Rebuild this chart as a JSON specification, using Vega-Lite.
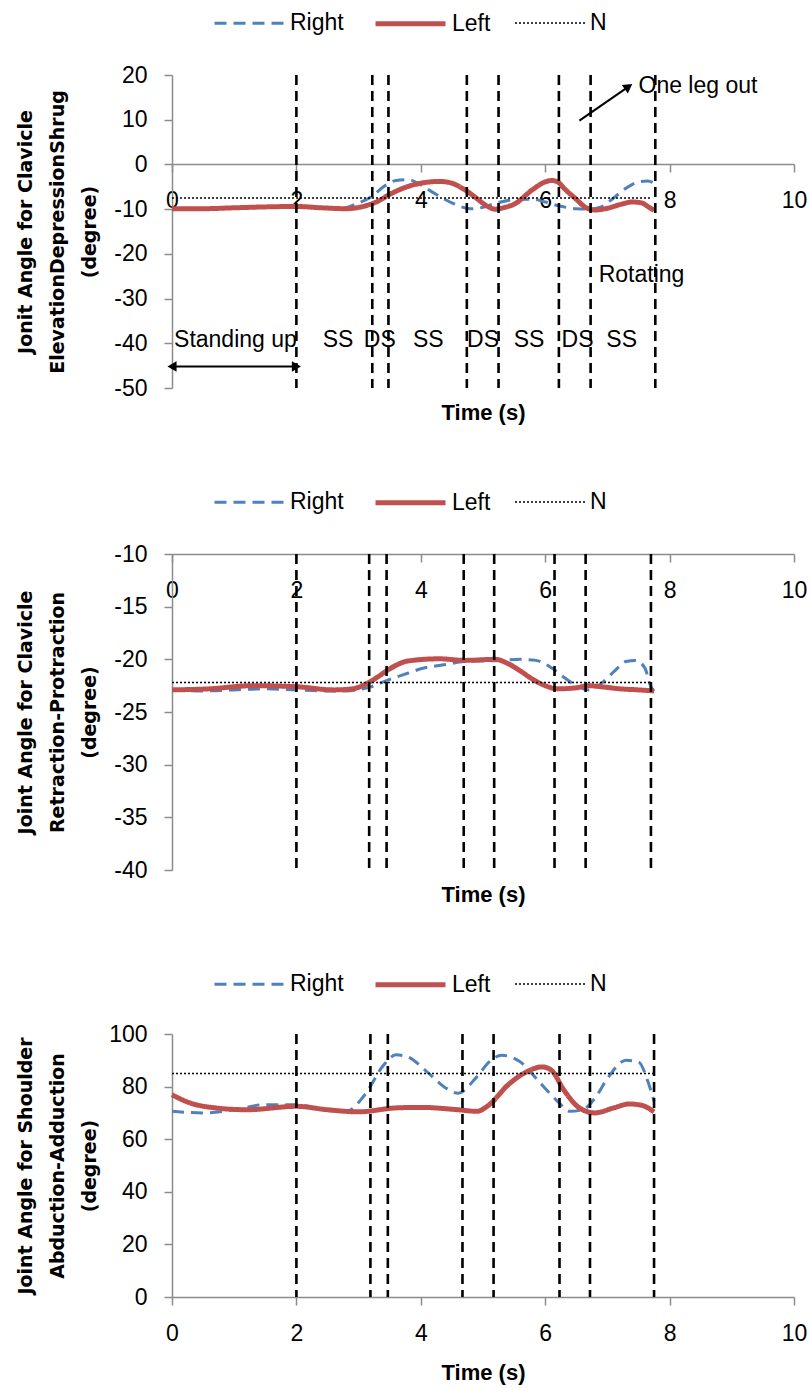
{
  "$schema": "https://vega.github.io/schema/vega-lite/v6.json",
  "background": "white",
  "padding": {"left": 16, "top": -14, "right": 5, "bottom": 5},
  "spacing": 42,
  "config": {
    "font": "Liberation Sans",
    "view": {"stroke": null},
    "axis": {"grid": false, "domainColor": "#8c8c8c", "domainWidth": 1.5, "tickColor": "#8c8c8c", "tickWidth": 1.5, "tickSize": 8, "labelFont": "Liberation Sans", "labelFontSize": 23, "labelColor": "#000", "labelPadding": 17, "labelFlush": false, "labelOverlap": false, "labelBound": false, "labelExpr": "'' + datum.value"},
    "axisX": {"titleFont": "Liberation Sans", "titleFontSize": 22, "titleFontWeight": "bold", "titleColor": "#000", "titleBaseline": "middle", "labelPadding": 17},
    "axisY": {"titleFont": "DejaVu Sans", "titleFontSize": 19, "titleFontWeight": "bold", "titleColor": "#000", "titleLineHeight": 32, "titleAngle": 270, "titleAlign": "center", "titleBaseline": "middle", "titleX": -147},
    "legend": {"labelFont": "Liberation Sans", "labelFontSize": 23, "labelColor": "#000", "symbolType": "stroke", "symbolSize": 4900, "labelOffset": 4, "columnPadding": 21, "padding": 0}
  },
  "resolve": {"scale": {"color": "independent", "strokeDash": "independent", "strokeWidth": "independent", "x": "independent", "y": "independent"}},
  "datasets": {
    "p1": [
      {"s": "Right", "t": 0, "v": -9.9}, {"s": "Right", "t": 0.5, "v": -9.9}, {"s": "Right", "t": 1, "v": -9.7}, {"s": "Right", "t": 1.5, "v": -9.5}, {"s": "Right", "t": 2, "v": -9.4}, {"s": "Right", "t": 2.4, "v": -9.7}, {"s": "Right", "t": 2.7, "v": -9.9}, {"s": "Right", "t": 3.0, "v": -8.6}, {"s": "Right", "t": 3.2, "v": -7.3}, {"s": "Right", "t": 3.4, "v": -5.0}, {"s": "Right", "t": 3.6, "v": -3.6}, {"s": "Right", "t": 3.8, "v": -3.4}, {"s": "Right", "t": 4.0, "v": -4.6}, {"s": "Right", "t": 4.2, "v": -6.3}, {"s": "Right", "t": 4.5, "v": -8.6}, {"s": "Right", "t": 4.8, "v": -9.9}, {"s": "Right", "t": 5.0, "v": -9.6}, {"s": "Right", "t": 5.2, "v": -8.7}, {"s": "Right", "t": 5.5, "v": -7.9}, {"s": "Right", "t": 5.8, "v": -7.8}, {"s": "Right", "t": 6.0, "v": -8.4}, {"s": "Right", "t": 6.2, "v": -9.2}, {"s": "Right", "t": 6.5, "v": -9.9}, {"s": "Right", "t": 6.7, "v": -10.0}, {"s": "Right", "t": 6.9, "v": -9.5}, {"s": "Right", "t": 7.1, "v": -7.5}, {"s": "Right", "t": 7.3, "v": -5.3}, {"s": "Right", "t": 7.5, "v": -3.9}, {"s": "Right", "t": 7.65, "v": -3.7}, {"s": "Right", "t": 7.75, "v": -4.2},
      {"s": "Left", "t": 0, "v": -9.9}, {"s": "Left", "t": 0.5, "v": -9.9}, {"s": "Left", "t": 1, "v": -9.7}, {"s": "Left", "t": 1.5, "v": -9.5}, {"s": "Left", "t": 2, "v": -9.4}, {"s": "Left", "t": 2.4, "v": -9.7}, {"s": "Left", "t": 2.8, "v": -9.9}, {"s": "Left", "t": 3.1, "v": -9.3}, {"s": "Left", "t": 3.3, "v": -8.3}, {"s": "Left", "t": 3.5, "v": -6.7}, {"s": "Left", "t": 3.8, "v": -4.9}, {"s": "Left", "t": 4.0, "v": -4.2}, {"s": "Left", "t": 4.3, "v": -3.8}, {"s": "Left", "t": 4.5, "v": -4.2}, {"s": "Left", "t": 4.7, "v": -5.6}, {"s": "Left", "t": 4.9, "v": -7.6}, {"s": "Left", "t": 5.05, "v": -9.2}, {"s": "Left", "t": 5.2, "v": -10.0}, {"s": "Left", "t": 5.35, "v": -9.6}, {"s": "Left", "t": 5.5, "v": -8.9}, {"s": "Left", "t": 5.8, "v": -5.6}, {"s": "Left", "t": 6.0, "v": -3.9}, {"s": "Left", "t": 6.1, "v": -3.6}, {"s": "Left", "t": 6.2, "v": -3.9}, {"s": "Left", "t": 6.3, "v": -5.3}, {"s": "Left", "t": 6.5, "v": -7.8}, {"s": "Left", "t": 6.65, "v": -9.6}, {"s": "Left", "t": 6.8, "v": -10.2}, {"s": "Left", "t": 7.0, "v": -9.8}, {"s": "Left", "t": 7.2, "v": -9.0}, {"s": "Left", "t": 7.4, "v": -8.4}, {"s": "Left", "t": 7.55, "v": -8.6}, {"s": "Left", "t": 7.65, "v": -9.4}, {"s": "Left", "t": 7.75, "v": -10.3},
      {"s": "N", "t": 0, "v": -7.5}, {"s": "N", "t": 7.7, "v": -7.5}
    ],
    "p2": [
      {"s": "Right", "t": 0, "v": -22.9}, {"s": "Right", "t": 0.5, "v": -23.0}, {"s": "Right", "t": 1, "v": -22.9}, {"s": "Right", "t": 1.5, "v": -22.8}, {"s": "Right", "t": 2, "v": -22.9}, {"s": "Right", "t": 2.5, "v": -23.0}, {"s": "Right", "t": 2.8, "v": -23.0}, {"s": "Right", "t": 3.2, "v": -22.6}, {"s": "Right", "t": 3.5, "v": -21.9}, {"s": "Right", "t": 3.8, "v": -21.3}, {"s": "Right", "t": 4.0, "v": -20.9}, {"s": "Right", "t": 4.4, "v": -20.5}, {"s": "Right", "t": 4.7, "v": -20.2}, {"s": "Right", "t": 5.0, "v": -20.15}, {"s": "Right", "t": 5.3, "v": -20.1}, {"s": "Right", "t": 5.6, "v": -20.0}, {"s": "Right", "t": 5.85, "v": -20.1}, {"s": "Right", "t": 6.1, "v": -20.8}, {"s": "Right", "t": 6.3, "v": -21.7}, {"s": "Right", "t": 6.5, "v": -22.5}, {"s": "Right", "t": 6.7, "v": -22.9}, {"s": "Right", "t": 6.9, "v": -22.3}, {"s": "Right", "t": 7.1, "v": -21.2}, {"s": "Right", "t": 7.3, "v": -20.2}, {"s": "Right", "t": 7.45, "v": -20.1}, {"s": "Right", "t": 7.6, "v": -20.8}, {"s": "Right", "t": 7.7, "v": -22.6}, {"s": "Right", "t": 7.75, "v": -23.0},
      {"s": "Left", "t": 0, "v": -22.9}, {"s": "Left", "t": 0.6, "v": -22.8}, {"s": "Left", "t": 1.3, "v": -22.5}, {"s": "Left", "t": 2, "v": -22.6}, {"s": "Left", "t": 2.6, "v": -22.9}, {"s": "Left", "t": 2.9, "v": -22.8}, {"s": "Left", "t": 3.1, "v": -22.4}, {"s": "Left", "t": 3.3, "v": -21.7}, {"s": "Left", "t": 3.5, "v": -20.9}, {"s": "Left", "t": 3.8, "v": -20.15}, {"s": "Left", "t": 4.3, "v": -19.95}, {"s": "Left", "t": 4.7, "v": -20.1}, {"s": "Left", "t": 5.2, "v": -20.0}, {"s": "Left", "t": 5.4, "v": -20.4}, {"s": "Left", "t": 5.6, "v": -21.1}, {"s": "Left", "t": 5.8, "v": -21.9}, {"s": "Left", "t": 6.0, "v": -22.5}, {"s": "Left", "t": 6.2, "v": -22.8}, {"s": "Left", "t": 6.5, "v": -22.7}, {"s": "Left", "t": 6.7, "v": -22.5}, {"s": "Left", "t": 6.9, "v": -22.6}, {"s": "Left", "t": 7.2, "v": -22.8}, {"s": "Left", "t": 7.5, "v": -22.9}, {"s": "Left", "t": 7.75, "v": -23.0},
      {"s": "N", "t": 0, "v": -22.2}, {"s": "N", "t": 7.7, "v": -22.2}
    ],
    "p3": [
      {"s": "Right", "t": 0, "v": 70.6}, {"s": "Right", "t": 0.5, "v": 70.0}, {"s": "Right", "t": 1.0, "v": 71.2}, {"s": "Right", "t": 1.5, "v": 73.1}, {"s": "Right", "t": 2.0, "v": 73.1}, {"s": "Right", "t": 2.5, "v": 70.9}, {"s": "Right", "t": 2.8, "v": 70.6}, {"s": "Right", "t": 3.1, "v": 76.9}, {"s": "Right", "t": 3.4, "v": 88.1}, {"s": "Right", "t": 3.6, "v": 92.1}, {"s": "Right", "t": 3.8, "v": 91.2}, {"s": "Right", "t": 4.1, "v": 85.6}, {"s": "Right", "t": 4.4, "v": 79.5}, {"s": "Right", "t": 4.6, "v": 77.5}, {"s": "Right", "t": 4.9, "v": 83.7}, {"s": "Right", "t": 5.1, "v": 89.4}, {"s": "Right", "t": 5.3, "v": 91.9}, {"s": "Right", "t": 5.6, "v": 89.4}, {"s": "Right", "t": 5.9, "v": 81.9}, {"s": "Right", "t": 6.2, "v": 74.4}, {"s": "Right", "t": 6.4, "v": 70.6}, {"s": "Right", "t": 6.6, "v": 71.2}, {"s": "Right", "t": 6.8, "v": 75.6}, {"s": "Right", "t": 7.0, "v": 83.1}, {"s": "Right", "t": 7.3, "v": 90.0}, {"s": "Right", "t": 7.5, "v": 89.4}, {"s": "Right", "t": 7.65, "v": 82.0}, {"s": "Right", "t": 7.75, "v": 74.4},
      {"s": "Left", "t": 0, "v": 76.9}, {"s": "Left", "t": 0.3, "v": 73.7}, {"s": "Left", "t": 0.7, "v": 71.9}, {"s": "Left", "t": 1.2, "v": 71.2}, {"s": "Left", "t": 2.0, "v": 72.5}, {"s": "Left", "t": 2.5, "v": 71.2}, {"s": "Left", "t": 3.0, "v": 70.4}, {"s": "Left", "t": 3.6, "v": 71.9}, {"s": "Left", "t": 4.0, "v": 72.1}, {"s": "Left", "t": 4.6, "v": 71.2}, {"s": "Left", "t": 4.9, "v": 70.6}, {"s": "Left", "t": 5.1, "v": 73.1}, {"s": "Left", "t": 5.4, "v": 80.6}, {"s": "Left", "t": 5.7, "v": 85.6}, {"s": "Left", "t": 5.95, "v": 87.5}, {"s": "Left", "t": 6.1, "v": 86.2}, {"s": "Left", "t": 6.3, "v": 78.7}, {"s": "Left", "t": 6.55, "v": 71.9}, {"s": "Left", "t": 6.8, "v": 70.0}, {"s": "Left", "t": 7.1, "v": 71.9}, {"s": "Left", "t": 7.35, "v": 73.4}, {"s": "Left", "t": 7.55, "v": 72.9}, {"s": "Left", "t": 7.75, "v": 70.4},
      {"s": "N", "t": 0, "v": 85}, {"s": "N", "t": 7.75, "v": 85}
    ],
    "v1": [{"t": 2.0}, {"t": 3.22}, {"t": 3.48}, {"t": 4.74}, {"t": 5.25}, {"t": 6.22}, {"t": 6.73}, {"t": 7.77}],
    "v2": [{"t": 2.0}, {"t": 3.17}, {"t": 3.45}, {"t": 4.69}, {"t": 5.18}, {"t": 6.15}, {"t": 6.65}, {"t": 7.7}],
    "v3": [{"t": 2.0}, {"t": 3.19}, {"t": 3.47}, {"t": 4.67}, {"t": 5.17}, {"t": 6.23}, {"t": 6.72}, {"t": 7.75}],
    "phases": [
      {"label": "Standing up", "t": 1.02, "v": -39.3}, {"label": "SS", "t": 2.67, "v": -39.3}, {"label": "DS", "t": 3.34, "v": -39.3}, {"label": "SS", "t": 4.12, "v": -39.3}, {"label": "DS", "t": 5.0, "v": -39.3}, {"label": "SS", "t": 5.74, "v": -39.3}, {"label": "DS", "t": 6.52, "v": -39.3}, {"label": "SS", "t": 7.23, "v": -39.3}
    ],
    "notes": [{"label": "Rotating", "t": 6.86, "v": -24.8}, {"label": "One leg out", "t": 7.5, "v": 17.6}],
    "arrows": [{"a": "span", "t": 0, "v": -45.2, "t2": 2, "v2": -45.2}, {"a": "leg", "t": 6.55, "v": 9.8, "t2": 7.34, "v2": 17.4}]
  },
  "vconcat": [
    {
      "width": 622, "height": 313,
      "layer": [
        {
          "data": {"name": "p1"},
          "mark": {"type": "line", "interpolate": "monotone"},
          "encoding": {
            "x": {"field": "t", "type": "quantitative", "scale": {"domain": [0, 10], "nice": false}, "axis": {"values": [0, 2, 4, 6, 8, 10], "offset": -224, "title": "Time (s)", "titleY": 248}},
            "y": {"field": "v", "type": "quantitative", "scale": {"domain": [-50, 20], "nice": false}, "axis": {"values": [-50, -40, -30, -20, -10, 0, 10, 20], "title": ["Jonit Angle for Clavicle", "ElevationDepressionShrug", "(degree)"], "titleY": 156.5}},
            "color": {"field": "s", "type": "nominal", "scale": {"domain": ["Right", "Left", "N"], "range": ["#4F81BD", "#C0504D", "#000000"]}, "legend": {"title": null, "orient": "none", "legendX": 41, "legendY": -89, "direction": "horizontal"}},
            "strokeDash": {"field": "s", "type": "nominal", "scale": {"domain": ["Right", "Left", "N"], "range": [[12, 7], [1, 0], [2, 2]]}, "legend": {"title": null}},
            "strokeWidth": {"field": "s", "type": "nominal", "scale": {"type": "ordinal", "domain": ["Right", "Left", "N"], "range": [3, 5, 1.5]}, "legend": {"title": null}}
          }
        },
        {"data": {"name": "v1"}, "mark": {"type": "rule", "color": "#000", "strokeWidth": 2.6, "strokeDash": [10, 6]}, "encoding": {"x": {"field": "t", "type": "quantitative"}}},
        {"data": {"name": "phases"}, "mark": {"type": "text", "font": "Liberation Sans", "fontSize": 23, "color": "#000", "align": "center", "baseline": "middle"}, "encoding": {"x": {"field": "t", "type": "quantitative"}, "y": {"field": "v", "type": "quantitative"}, "text": {"field": "label"}}},
        {"data": {"name": "notes"}, "mark": {"type": "text", "font": "Liberation Sans", "fontSize": 23, "color": "#000", "align": "left", "baseline": "middle"}, "encoding": {"x": {"field": "t", "type": "quantitative"}, "y": {"field": "v", "type": "quantitative"}, "text": {"field": "label"}}},
        {"data": {"name": "arrows"}, "mark": {"type": "rule", "color": "#000", "strokeWidth": 2}, "encoding": {"x": {"field": "t", "type": "quantitative"}, "y": {"field": "v", "type": "quantitative"}, "x2": {"field": "t2"}, "y2": {"field": "v2"}}},
        {"data": {"name": "arrows"}, "transform": [{"filter": "datum.a == 'span'"}], "mark": {"type": "point", "shape": "triangle-left", "filled": true, "color": "#000", "size": 110, "opacity": 1}, "encoding": {"x": {"field": "t", "type": "quantitative"}, "y": {"field": "v", "type": "quantitative"}}},
        {"data": {"name": "arrows"}, "transform": [{"filter": "datum.a == 'span'"}], "mark": {"type": "point", "shape": "triangle-right", "filled": true, "color": "#000", "size": 110, "opacity": 1}, "encoding": {"x": {"field": "t2", "type": "quantitative"}, "y": {"field": "v2", "type": "quantitative"}}},
        {"data": {"name": "arrows"}, "transform": [{"filter": "datum.a == 'leg'"}], "mark": {"type": "point", "shape": "triangle-up", "angle": 55, "filled": true, "color": "#000", "size": 110, "opacity": 1}, "encoding": {"x": {"field": "t2", "type": "quantitative"}, "y": {"field": "v2", "type": "quantitative"}}}
      ]
    },
    {
      "width": 622, "height": 316,
      "layer": [
        {
          "data": {"name": "p2"},
          "mark": {"type": "line", "interpolate": "monotone"},
          "encoding": {
            "x": {"field": "t", "type": "quantitative", "scale": {"domain": [0, 10], "nice": false}, "axis": {"values": [0, 2, 4, 6, 8, 10], "offset": -316, "title": "Time (s)", "titleY": 340}},
            "y": {"field": "v", "type": "quantitative", "scale": {"domain": [-40, -10], "nice": false}, "axis": {"values": [-40, -35, -30, -25, -20, -15, -10], "title": ["Joint Angle for Clavicle", "Retraction-Protraction", "(degree)"], "titleY": 158}},
            "color": {"field": "s", "type": "nominal", "scale": {"domain": ["Right", "Left", "N"], "range": ["#4F81BD", "#C0504D", "#000000"]}, "legend": {"title": null, "orient": "none", "legendX": 41, "legendY": -89, "direction": "horizontal"}},
            "strokeDash": {"field": "s", "type": "nominal", "scale": {"domain": ["Right", "Left", "N"], "range": [[12, 7], [1, 0], [2, 2]]}, "legend": {"title": null}},
            "strokeWidth": {"field": "s", "type": "nominal", "scale": {"type": "ordinal", "domain": ["Right", "Left", "N"], "range": [3, 5, 1.5]}, "legend": {"title": null}}
          }
        },
        {"data": {"name": "v2"}, "mark": {"type": "rule", "color": "#000", "strokeWidth": 2.6, "strokeDash": [10, 6]}, "encoding": {"x": {"field": "t", "type": "quantitative"}}}
      ]
    },
    {
      "width": 622, "height": 263,
      "layer": [
        {
          "data": {"name": "p3"},
          "mark": {"type": "line", "interpolate": "monotone"},
          "encoding": {
            "x": {"field": "t", "type": "quantitative", "scale": {"domain": [0, 10], "nice": false}, "axis": {"values": [0, 2, 4, 6, 8, 10], "title": "Time (s)", "titleY": 75}},
            "y": {"field": "v", "type": "quantitative", "scale": {"domain": [0, 100], "nice": false}, "axis": {"values": [0, 20, 40, 60, 80, 100], "title": ["Joint Angle for Shoulder", "Abduction-Adduction", "(degree)"], "titleY": 131.5}},
            "color": {"field": "s", "type": "nominal", "scale": {"domain": ["Right", "Left", "N"], "range": ["#4F81BD", "#C0504D", "#000000"]}, "legend": {"title": null, "orient": "none", "legendX": 41, "legendY": -87, "direction": "horizontal"}},
            "strokeDash": {"field": "s", "type": "nominal", "scale": {"domain": ["Right", "Left", "N"], "range": [[12, 7], [1, 0], [2, 2]]}, "legend": {"title": null}},
            "strokeWidth": {"field": "s", "type": "nominal", "scale": {"type": "ordinal", "domain": ["Right", "Left", "N"], "range": [3, 5, 1.5]}, "legend": {"title": null}}
          }
        },
        {"data": {"name": "v3"}, "mark": {"type": "rule", "color": "#000", "strokeWidth": 2.6, "strokeDash": [10, 6]}, "encoding": {"x": {"field": "t", "type": "quantitative"}}}
      ]
    }
  ]
}
